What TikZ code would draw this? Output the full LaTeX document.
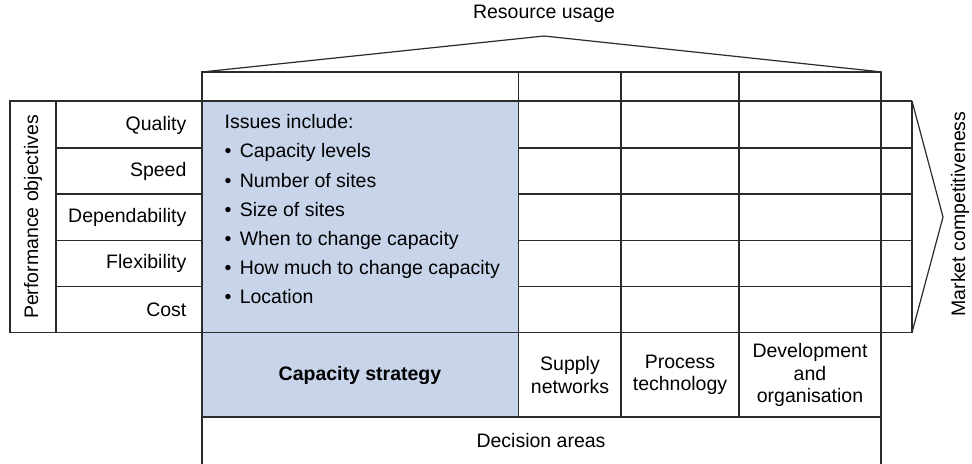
\documentclass[tikz,border=0pt]{standalone}
\usepackage{fontspec}
\setmainfont{Liberation Sans}
\usepackage{xcolor}
\usepackage{tikz}
\definecolor{capblue}{HTML}{C7D4EA}
\definecolor{linegray}{HTML}{2B2B2B}
\newcommand{\issuebullet}{\textbullet\hspace{0.43em}}

\begin{document}
\begin{tikzpicture}[x=0.5pt, y=-0.5pt,
    line width=0.6pt, draw=linegray,
    every node/.style={font=\fontsize{9.75}{11.2}\selectfont, inner sep=0pt},
    areatext/.style={align=center}
]
  \useasboundingbox (0,0) rectangle (972,464);

  % Capacity strategy (blaue Spalte)
  \fill[capblue] (202,101) rectangle (518.7,417);

  % Dach: Resource usage
  \draw (202,72) -- (544,36) -- (882,72);
  \draw (202,101) -- (202,72) -- (881,72);
  \node (usage) at (544,14) {Resource usage};

  % Zeilen der Performance objectives
  \draw (10,101) rectangle (56,332.5);
  \draw (10,101) -- (912,101);
  \draw (10,332.5) -- (912,332.5);
  \draw (56,148) -- (202,148) (518.7,148) -- (912,148);
  \draw (56,194) -- (202,194) (518.7,194) -- (912,194);
  \draw (56,240.5) -- (202,240.5) (518.7,240.5) -- (912,240.5);
  \draw (56,286.5) -- (202,286.5) (518.7,286.5) -- (912,286.5);
  \draw (912,101) -- (912,332.5);

  % Spalten
  \draw (202,101) -- (202,464);
  \draw (518.7,72) -- (518.7,417);
  \draw (621,72) -- (621,417);
  \draw (739,72) -- (739,417);
  \draw (881,72) -- (881,464);
  \draw (202,417) -- (881,417);

  % Pfeil: Market competitiveness
  \draw (912,101) -- (943,217) -- (912,332.5);

  % Beschriftungen
  \node[rotate=90] (perf) at (33,217) {Performance objectives};
  \node[rotate=90] (market) at (960,214) {Market competitiveness};

  \node[anchor=east] (quality) at (187,125) {Quality};
  \node[anchor=east] (speed) at (187,171) {Speed};
  \node[anchor=east] (depend) at (187,217) {Dependability};
  \node[anchor=east] (flex) at (187,263.5) {Flexibility};
  \node[anchor=east] (cost) at (187,309.5) {Cost};

  \node[anchor=north west, align=left,
        font=\fontsize{9.75}{14.6}\selectfont] (issues) at (224,114)
    {Issues include:\\
     \issuebullet Capacity levels\\
     \issuebullet Number of sites\\
     \issuebullet Size of sites\\
     \issuebullet When to change capacity\\
     \issuebullet How much to change capacity\\
     \issuebullet Location};

  \node[font=\fontsize{9.75}{11}\selectfont\bfseries] (capacity) at (360,375) {Capacity strategy};
  \node[areatext] (supply) at (570,375) {Supply\\networks};
  \node[areatext] (process) at (680,375) {Process\\technology};
  \node[areatext] (develop) at (810,375) {Development\\and\\organisation};
  \node (decision) at (541,441) {Decision areas};

\end{tikzpicture}
\end{document}
